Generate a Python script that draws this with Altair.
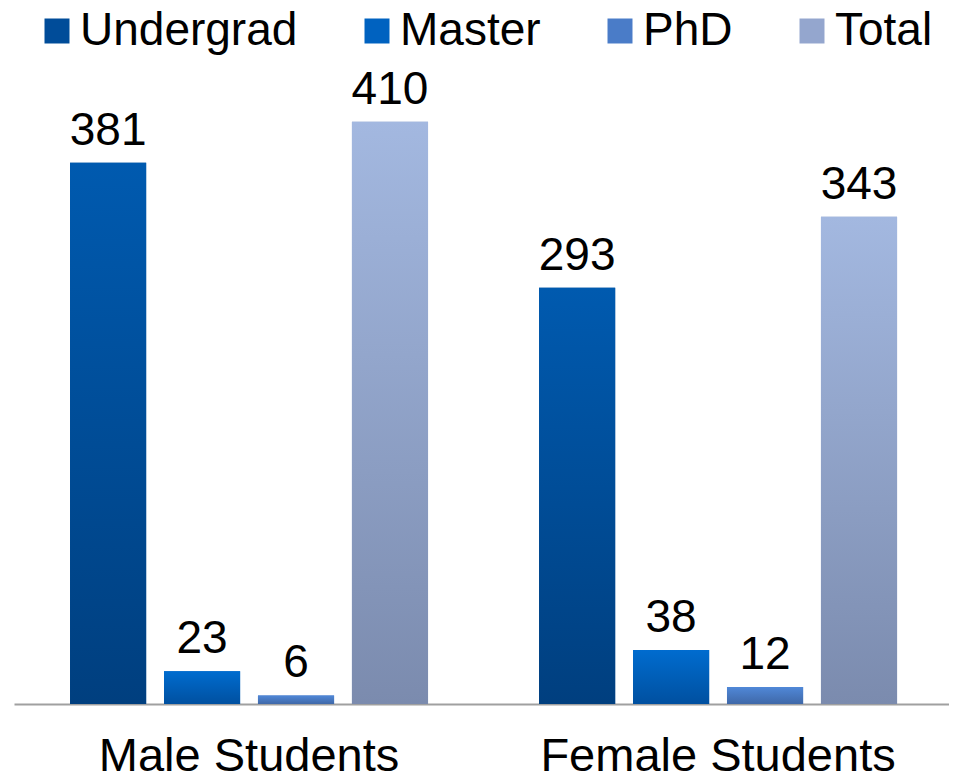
import altair as alt
import pandas as pd

groups = ["Male Students", "Female Students"]
series = ["Undergrad", "Master", "PhD", "Total"]
male_values = [381, 23, 6, 410]
female_values = [293, 38, 12, 343]

solid_colors = ["#004C99", "#0062C0", "#4A7CC8", "#94A6CE"]
grad_top = ["#005AAF", "#006CCF", "#5088D8", "#A3B8E0"]
grad_bottom = ["#003F7F", "#0050A0", "#3F68A8", "#7B8BAE"]

rows = []
for g, vals in zip(groups, [male_values, female_values]):
    for s, v in zip(series, vals):
        rows.append({"group": g, "series": s, "value": v})
df = pd.DataFrame(rows)

FONT = "Liberation Sans"

x_enc = alt.X("group:N", sort=groups, title=None,
              scale=alt.Scale(paddingInner=0.2367, paddingOuter=0.1151, align=0.519),
              axis=alt.Axis(labelFontSize=47, labelFont=FONT, labelColor="black",
                            labelPadding=29, ticks=False, domainColor="#A0A0A0",
                            domainWidth=2, labelAngle=0, labelLimit=600))
xo_enc = alt.XOffset("series:N", sort=series,
                     scale=alt.Scale(domain=series, paddingInner=0.19, paddingOuter=0))
y_enc = alt.Y("value:Q", scale=alt.Scale(domain=[0, 490], nice=False), axis=None)

base = alt.Chart(df)

solid = base.mark_bar().encode(
    x=x_enc, xOffset=xo_enc, y=y_enc,
    color=alt.Color("series:N", sort=series,
                    scale=alt.Scale(domain=series, range=solid_colors),
                    legend=alt.Legend(title=None, orient="none", direction="horizontal",
                                      legendX=20, legendY=0, symbolType="square",
                                      symbolSize=625, symbolStrokeWidth=0,
                                      labelFontSize=46, labelFont=FONT, labelColor="black",
                                      labelOffset=0, columnPadding=56, labelLimit=400,
                                      padding=0)),
)

layers = [solid]
for s, top, bot in zip(series, grad_top, grad_bottom):
    layers.append(
        base.transform_filter(alt.datum.series == s).mark_bar(
            color=alt.Gradient(
                gradient="linear",
                stops=[alt.GradientStop(color=top, offset=0),
                       alt.GradientStop(color=bot, offset=1)],
                x1=1, x2=1, y1=0, y2=1,
            )
        ).encode(x=x_enc, xOffset=xo_enc, y=y_enc)
    )

labels = base.mark_text(baseline="alphabetic", dy=-18, fontSize=46, font=FONT, color="black").encode(
    x=x_enc, xOffset=xo_enc, y=y_enc, text=alt.Text("value:Q")
)
layers.append(labels)

chart = alt.layer(*layers).properties(
    width=935, height=696,
    padding={"left": 6, "top": 0, "right": 0, "bottom": 70},
    autosize=alt.AutoSizeParams(type="none"),
).configure_view(stroke=None).configure_axis(grid=False)

chart.save("out.html", embed_options={"renderer": "svg", "actions": False})
